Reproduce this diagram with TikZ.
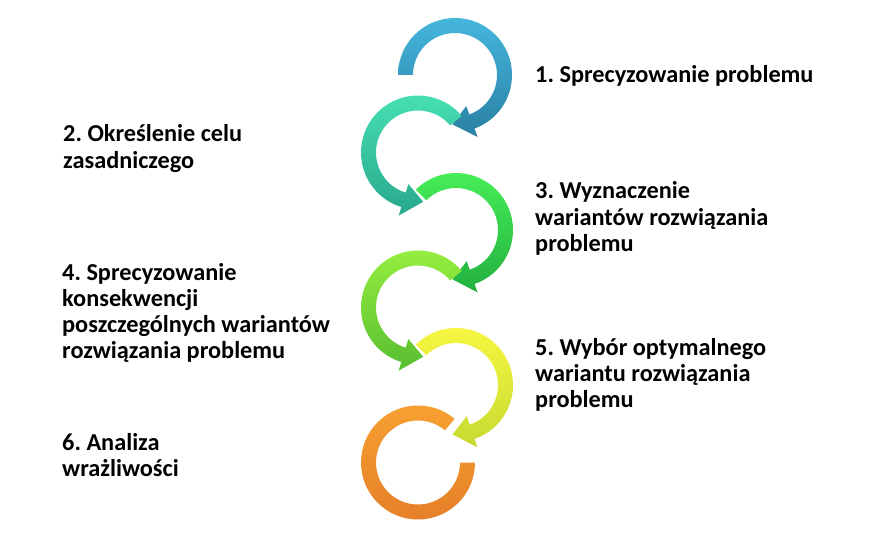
\documentclass[tikz,border=0pt]{standalone}
\usepackage{fontspec}
\setmainfont{Carlito}
\usepackage{tikz}
\usepackage{xcolor}
\frenchspacing

\definecolor{niebieskiA}{HTML}{45B6DD}
\definecolor{niebieskiB}{HTML}{2A80A2}
\definecolor{turkusA}{HTML}{48E2B4}
\definecolor{turkusB}{HTML}{28A88C}
\definecolor{zielonyA}{HTML}{48F058}
\definecolor{zielonyB}{HTML}{22B040}
\definecolor{limonkaA}{HTML}{98F040}
\definecolor{limonkaB}{HTML}{58BE30}
\definecolor{zoltyA}{HTML}{F8F842}
\definecolor{zoltyB}{HTML}{C6DA30}
\definecolor{pomaranczA}{HTML}{F8A232}
\definecolor{pomaranczB}{HTML}{E47E28}

\begin{document}
\begin{tikzpicture}[x=1pt,y=1pt,
    opis/.style={anchor=base west,align=left,inner sep=0pt,
        font=\fontsize{24.3}{26}\selectfont\bfseries}]
    \useasboundingbox[fill=white] (0,0) rectangle (880,-540);

    % strzalki: srodek x / srodek y / kat poczatku / kat konca / kierunek / kolory
    \foreach \cx/\cy/\a/\b/\d/\ct/\cb in {
        455/-75/180/-70/-1/niebieskiA/niebieskiB,
        418/-152.5/40/253/1/turkusA/turkusB,
        456/-230/135/-71/-1/zielonyA/zielonyB,
        418/-307.5/40/253/1/limonkaA/limonkaB,
        456/-385/135/-71/-1/zoltyA/zoltyB}
        \shade[top color=\ct, bottom color=\cb]
            ([shift={(\cx,\cy)}]\a:57) arc[start angle=\a, end angle=\b, radius=57]
            -- ([shift={(\cx,\cy)}]\b:66)
            -- ([shift={(\cx,\cy)}]{\b+23*\d}:49.5)
            -- ([shift={(\cx,\cy)}]\b:33)
            -- ([shift={(\cx,\cy)}]\b:42) arc[start angle=\b, end angle=\a, radius=42]
            -- cycle;

    % ostatni pierscien bez grotu
    \shade[top color=pomaranczA, bottom color=pomaranczB]
        ([shift={(418,-462.5)}]50:57) arc[start angle=50, end angle=360, radius=57]
        -- ([shift={(418,-462.5)}]0:42) arc[start angle=360, end angle=50, radius=42]
        -- cycle;

    % kotwica base = linia bazowa ostatniego wiersza
    \node[opis] (etap1) at (535,-83) {1. Sprecyzowanie problemu};
    \node[opis] (etap2) at (63,-168) {2. Określenie celu\\zasadniczego};
    \node[opis] (etap3) at (535,-251) {3. Wyznaczenie\\wariantów rozwiązania\\problemu};
    \node[opis] (etap4) at (62,-358) {4. Sprecyzowanie\\konsekwencji\\poszczególnych wariantów\\rozwiązania problemu};
    \node[opis] (etap5) at (535,-407) {5. Wybór optymalnego\\wariantu rozwiązania\\problemu};
    \node[opis] (etap6) at (62,-476) {6. Analiza\\wrażliwości};

\end{tikzpicture}
\end{document}
